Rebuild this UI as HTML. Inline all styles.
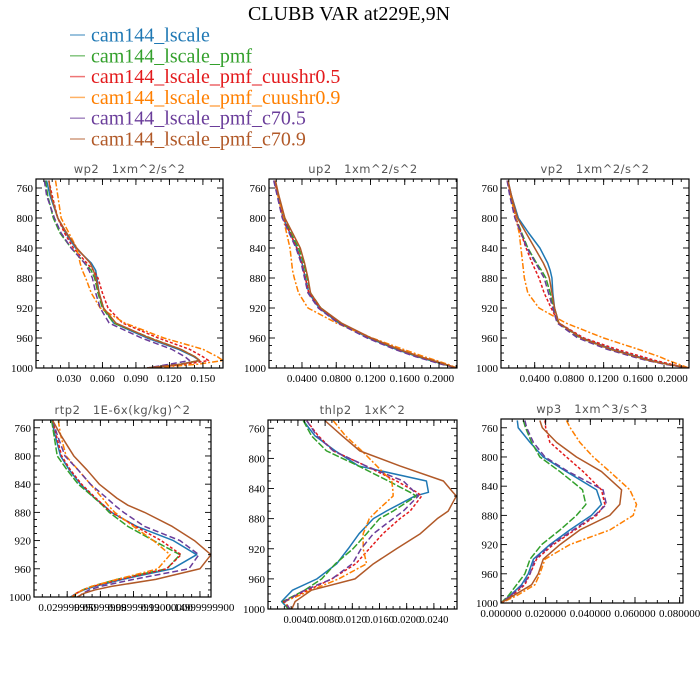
<!DOCTYPE html>
<html><head><meta charset="utf-8"><style>
html,body{margin:0;padding:0;background:#fff;}
svg{display:block;}
svg text{white-space:pre;}
</style></head><body>
<svg id="chart" width="700" height="700" viewBox="0 0 700 700" xmlns="http://www.w3.org/2000/svg">
<text x="349" y="20" text-anchor="middle" font-family="Liberation Serif, serif" font-size="20" fill="#000">CLUBB VAR at229E,9N</text>
<g id="legend"></g>
<g id="panels"></g>
</svg>
<script>
const seriesNames = ["cam144_lscale","cam144_lscale_pmf","cam144_lscale_pmf_cuushr0.5","cam144_lscale_pmf_cuushr0.9","cam144_lscale_pmf_c70.5","cam144_lscale_pmf_c70.9"];
const colors = ["#1f78b4","#33a02c","#e31a1c","#ff7f00","#6a3d9a","#b15928"];
const dashes = ["", "7,2", "3,2", "6,2,2,2", "6,3", ""];

const levelsA = [750,770,800,820,840,860,870,880,900,920,940,960,975,985,990,995,1000];
const levelsThlp2 = [750,770,790,810,830,845,850,870,880,900,920,940,960,975,990,1000];
const levelsWp3 = [750,760,780,800,820,845,865,880,900,920,940,960,975,990,1000];

const wp2Values = [
 [.010,.013,.020,.027,.036,.050,.054,.055,.057,.061,.070,.100,.128,.142,.147,.130,.100],
 [.009,.011,.016,.022,.032,.044,.050,.053,.056,.060,.070,.103,.130,.143,.147,.130,.100],
 [.012,.015,.020,.026,.034,.046,.052,.056,.060,.065,.078,.110,.138,.150,.155,.135,.102],
 [.018,.020,.023,.030,.037,.040,.042,.045,.050,.058,.080,.115,.150,.163,.168,.145,.105],
 [.008,.010,.017,.023,.032,.044,.048,.051,.054,.058,.066,.095,.122,.134,.138,.120,.100],
 [.012,.014,.020,.028,.037,.049,.052,.054,.057,.061,.072,.102,.130,.143,.147,.130,.100]
];
const up2Values = [
 [.008,.012,.018,.026,.034,.040,.042,.044,.048,.060,.083,.118,.150,.175,.190,.205,.221],
 [.008,.012,.019,.027,.036,.042,.044,.046,.050,.062,.085,.120,.152,.177,.192,.206,.221],
 [.008,.012,.018,.026,.034,.040,.042,.044,.048,.061,.085,.120,.153,.178,.193,.207,.221],
 [.008,.012,.018,.022,.026,.028,.029,.031,.036,.047,.080,.122,.158,.183,.197,.210,.221],
 [.007,.011,.017,.025,.033,.039,.041,.043,.047,.059,.082,.116,.148,.173,.188,.203,.220],
 [.009,.013,.020,.029,.038,.043,.045,.047,.050,.062,.086,.121,.153,.178,.193,.207,.221]
];
const vp2Values = [
 [.009,.013,.021,.033,.046,.055,.058,.060,.061,.063,.068,.095,.130,.160,.175,.195,.219],
 [.009,.012,.018,.025,.032,.042,.048,.053,.058,.062,.067,.093,.127,.157,.172,.193,.219],
 [.009,.012,.018,.024,.030,.037,.041,.045,.051,.059,.068,.097,.135,.165,.180,.198,.219],
 [.009,.012,.018,.022,.024,.026,.027,.028,.032,.045,.076,.120,.160,.185,.195,.207,.219],
 [.008,.011,.017,.024,.031,.041,.046,.051,.056,.061,.066,.090,.124,.154,.170,.191,.218],
 [.009,.013,.020,.030,.040,.050,.054,.057,.060,.063,.068,.094,.128,.158,.173,.194,.219]
];
const rtp2Values = [
 [.016,.019,.024,.032,.042,.055,.063,.070,.093,.126,.147,.125,.080,.055,.045,.038,.033],
 [.016,.018,.021,.030,.040,.055,.062,.068,.085,.108,.132,.120,.075,.052,.044,.038,.036],
 [.017,.020,.025,.033,.043,.056,.063,.070,.092,.115,.133,.120,.078,.053,.044,.038,.034],
 [.022,.024,.029,.040,.051,.062,.067,.073,.090,.108,.123,.112,.075,.052,.044,.038,.034],
 [.017,.021,.028,.040,.051,.066,.073,.081,.100,.132,.149,.140,.090,.060,.050,.044,.040],
 [.017,.024,.036,.048,.059,.075,.085,.100,.125,.145,.160,.150,.110,.070,.055,.045,.039]
];
const thlp2Values = [
 [.0048,.0065,.0095,.0129,.0229,.0232,.0212,.0170,.0151,.0130,.0114,.0097,.0068,.0032,.0016,.0026],
 [.0048,.0060,.0082,.0129,.0173,.0205,.0214,.0180,.0160,.0141,.0121,.0095,.0075,.0050,.0018,.0026],
 [.0053,.0070,.0092,.0140,.0185,.0215,.0222,.0205,.0190,.0165,.0145,.0125,.0090,.0055,.0019,.0028],
 [.0092,.0110,.0134,.0156,.0178,.0180,.0180,.0156,.0145,.0136,.0136,.0141,.0100,.0060,.0021,.0028],
 [.0053,.0068,.0092,.0140,.0195,.0212,.0217,.0195,.0180,.0151,.0133,.0120,.0090,.0050,.0021,.0028],
 [.0080,.0105,.0131,.0190,.0254,.0268,.0273,.0261,.0245,.0220,.0185,.0151,.0124,.0060,.0036,.0031]
];
const wp3Values = [
 [.0073,.0077,.0130,.0189,.0293,.0428,.0450,.0405,.0308,.0219,.0145,.0122,.0092,.0040,0],
 [.0100,.0110,.0137,.0174,.0264,.0365,.0380,.0338,.0264,.0182,.0130,.0107,.0070,.0033,0],
 [.0197,.0200,.0219,.0293,.0368,.0450,.0465,.0428,.0331,.0234,.0159,.0130,.0107,.0048,0],
 [.0293,.0310,.0353,.0413,.0487,.0577,.0607,.0592,.0487,.0308,.0197,.0174,.0152,.0070,0],
 [.0107,.0115,.0145,.0197,.0301,.0457,.0472,.0420,.0323,.0226,.0152,.0130,.0100,.0043,0],
 [.0174,.0185,.0249,.0338,.0450,.0540,.0532,.0487,.0353,.0264,.0189,.0167,.0137,.0055,0]
];

const yTicks = [760,800,840,880,920,960,1000];
const wp2Ticks = [0.03,0.06,0.09,0.12,0.15];
const wp2TickLabels = ["0.030","0.060","0.090","0.120","0.150"];
const up2Ticks = [0.04,0.08,0.12,0.16,0.20];
const up2TickLabels = ["0.0400","0.0800","0.1200","0.1600","0.2000"];
const rtp2Ticks = [0.03,0.06,0.09,0.12,0.15];
const rtp2TickLabels = ["0.029999990","0.05999999","0.08999999","0.12000000","0.14999999900"];
const thlp2Ticks = [0.004,0.008,0.012,0.016,0.020,0.024];
const thlp2TickLabels = ["0.0040","0.0080","0.0120","0.0160","0.0200","0.0240"];
const wp3Ticks = [0,0.02,0.04,0.06,0.08];
const wp3TickLabels = ["0.000000","0.020000","0.040000","0.060000","0.080000"];

const NS = "http://www.w3.org/2000/svg";
function mk(tag, attrs, parent){
  const e = document.createElementNS(NS, tag);
  for (const k in attrs) e.setAttribute(k, attrs[k]);
  parent.appendChild(e); return e;
}

// legend
const lg = document.getElementById('legend');
seriesNames.forEach((n,i)=>{
  const y = 35 + i*20.8;
  const ln = mk('line',{x1:70,x2:85,y1:y,y2:y,stroke:colors[i],'stroke-width':1.5,opacity:0.6},lg);
  
  
  const t = mk('text',{x:91,y:y+6.5,'font-family':'Liberation Serif, serif','font-size':20,fill:colors[i]},lg);
  t.textContent = n;
  
  
});

const panels = [
 {key:'wp2',title:'wp2   1xm^2/s^2',x0:36,x1:223,yt:179,yb:368,pTop:748,xmin:0.0005,xmax:0.168,levels:levelsA,vals:wp2Values,ticks:wp2Ticks,labels:wp2TickLabels,minor:0.0075,fs:11},
 {key:'up2',title:'up2   1xm^2/s^2',x0:269,x1:457,yt:179,yb:368,pTop:748,xmin:0.0015,xmax:0.221,levels:levelsA,vals:up2Values,ticks:up2Ticks,labels:up2TickLabels,minor:0.01,fs:11},
 {key:'vp2',title:'vp2   1xm^2/s^2',x0:501,x1:689,yt:179,yb:368,pTop:748,xmin:0.0009,xmax:0.219,levels:levelsA,vals:vp2Values,ticks:up2Ticks,labels:up2TickLabels,minor:0.01,fs:11},
 {key:'rtp2',title:'rtp2   1E-6x(kg/kg)^2',x0:34,x1:211,yt:420,yb:597,pTop:749,xmin:0,xmax:0.16,levels:levelsA,vals:rtp2Values,ticks:rtp2Ticks,labels:rtp2TickLabels,minor:0.0075,fs:11},
 {key:'thlp2',title:'thlp2   1xK^2',x0:268,x1:457,yt:420,yb:609,pTop:749,xmin:-0.0004,xmax:0.0274,levels:levelsThlp2,vals:thlp2Values,ticks:thlp2Ticks,labels:thlp2TickLabels,minor:0.001,fs:10.5},
 {key:'wp3',title:'wp3   1xm^3/s^3',x0:501,x1:683,yt:419,yb:603,pTop:748,xmin:0,xmax:0.0815,levels:levelsWp3,vals:wp3Values,ticks:wp3Ticks,labels:wp3TickLabels,minor:0.005,fs:11}
];

const root = document.getElementById('panels');
panels.forEach(P=>{
  const g = mk('g',{},root);
  
  
  const sx = v => P.x0 + (v-P.xmin)/(P.xmax-P.xmin)*(P.x1-P.x0);
  const sy = p => P.yt + (p-P.pTop)/(1000-P.pTop)*(P.yb-P.yt);
  const cx = (P.x0+P.x1)/2;
  const t = mk('text',{x:cx,y:P.yt-6,'text-anchor':'middle','font-family':'DejaVu Sans, sans-serif','font-size':11.5,fill:'#555','letter-spacing':'0.5'},g);
  t.textContent = P.title;
  
  
  const cid = 'clip-'+P.key;
  const cp = mk('clipPath',{id:cid},g);
  mk('rect',{x:P.x0,y:P.yt,width:P.x1-P.x0,height:P.yb-P.yt},cp);
  const sg = mk('g',{'clip-path':'url(#'+cid+')'},g);
  P.vals.forEach((arr,i)=>{
    const d = arr.map((v,j)=>(j?'L':'M')+sx(v).toFixed(2)+','+sy(P.levels[j]).toFixed(2)).join(' ');
    const path = mk('path',{d:d,fill:'none',stroke:colors[i],'stroke-width':1.5,'stroke-linejoin':'round'},sg);
    if (dashes[i]) path.setAttribute('stroke-dasharray',dashes[i]);
    
    
  });
  const fr = mk('rect',{x:P.x0,y:P.yt,width:P.x1-P.x0,height:P.yb-P.yt,fill:'none',stroke:'#000','stroke-width':1.2},g);
  
  
  const ax = mk('g',{stroke:'#000','stroke-width':0.9},g);
  
  
  for (let p=760;p<=1000;p+=10){
    if (p<P.pTop) continue;
    const major = (p%40===0);
    const L = major?6:3;
    const y = sy(p);
    mk('line',{x1:P.x0,x2:P.x0+L,y1:y,y2:y},ax);
    mk('line',{x1:P.x1,x2:P.x1-L,y1:y,y2:y},ax);
  }
  yTicks.forEach(p=>{
    const tt = mk('text',{x:P.x0-3,y:sy(p)+4,'text-anchor':'end','font-family':'Liberation Serif, serif','font-size':11,fill:'#000'},g);
    tt.textContent = p;
    
    
  });
  const start = Math.ceil(P.xmin/P.minor - 1e-9);
  for (let k=start; k*P.minor<=P.xmax+1e-12; k++){
    const v = k*P.minor;
    const x = sx(v);
    if (x<P.x0-0.5||x>P.x1+0.5) continue;
    mk('line',{x1:x,x2:x,y1:P.yb,y2:P.yb-3},ax);
    mk('line',{x1:x,x2:x,y1:P.yt,y2:P.yt+3},ax);
  }
  P.ticks.forEach((v,i)=>{
    const x = sx(v);
    mk('line',{x1:x,x2:x,y1:P.yb,y2:P.yb-6},ax);
    mk('line',{x1:x,x2:x,y1:P.yt,y2:P.yt+6},ax);
    const tt = mk('text',{x:x,y:P.yb+14,'text-anchor':'middle','font-family':'Liberation Serif, serif','font-size':P.fs,fill:'#000'},g);
    tt.textContent = P.labels[i];
    
    
  });
});
</script>
</body></html>
